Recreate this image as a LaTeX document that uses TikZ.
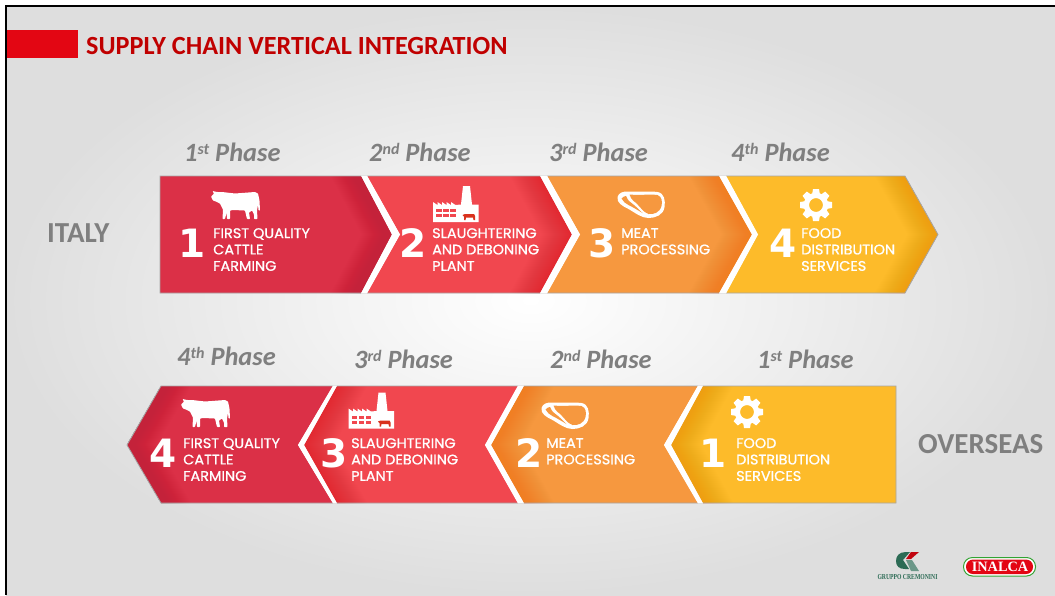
\documentclass[tikz,border=0pt]{standalone}
\usepackage{fontspec}
\setmainfont{Carlito}
\newfontfamily\gothfont[FakeBold=1,FakeStretch=1.04]{Poppins}
\newfontfamily\numfont{DejaVu Sans}
\newfontfamily\logofont{Liberation Serif}
\definecolor{segA}{HTML}{DB3047}
\definecolor{segAd}{HTML}{C4223A}
\definecolor{segB}{HTML}{F1474F}
\definecolor{segBd}{HTML}{E2282F}
\definecolor{segC}{HTML}{F6983F}
\definecolor{segCd}{HTML}{F07F12}
\definecolor{segD}{HTML}{FDBB2A}
\definecolor{segDd}{HTML}{EE9F12}
\definecolor{cowred}{HTML}{D9321E}
\definecolor{phasegray}{HTML}{7F7F7F}
\definecolor{titlered}{HTML}{C00000}
\definecolor{barred}{HTML}{E30613}
\definecolor{edgegray}{HTML}{A6A6A6}
\definecolor{logogreen}{HTML}{2C6B55}
\definecolor{bggray}{HTML}{DEDEDE}
\newcommand{\phsup}[1]{\raisebox{.26em}{\fontsize{16}{16}\selectfont #1}}
\tikzset{
  x=1pt,y=-1pt,
  phaselabel/.style={text=phasegray,font=\fontsize{26.4}{26}\selectfont\bfseries\itshape,inner sep=0pt,anchor=base west},
  regionlabel/.style={text=phasegray,font=\fontsize{29}{29}\selectfont\bfseries,inner sep=0pt,anchor=base west},
  stepnum/.style={text=white,font=\numfont\fontsize{39}{39}\selectfont\bfseries,inner sep=0pt,anchor=base},
  steptext/.style={text=white,font=\gothfont\fontsize{13.9}{16.4}\selectfont,inner sep=0pt,anchor=north west,align=left},
  cowicon/.pic={
    \fill[white,rounded corners=0.6pt] (0,6)--(3,3)--(1.5,.5)--(6,1.5)--(11,1.5)--(24,3)--(44,1.5)--(47,3)--(48.5,10)--(49,20)--(47.5,20)--(47,14)--(46,20)--(46.5,28.5)--(43,28.5)--(43,24)--(41,20)--(38,22)--(39,28.5)--(36,28.5)--(34,20)--(22,19.5)--(19,20)--(19,28.5)--(16,28.5)--(15.5,22)--(14,28.5)--(11.5,28.5)--(12,19)--(9,13)--(5,11)--(2,10)--cycle;
  },
  gearicon/.pic={
    \draw[white,line width=5.2pt] (0,0) circle (9.6);
    \foreach \a in {0,45,...,315}{\fill[white,rotate=\a] (-3,-16)--(3,-16)--(4,-10)--(-4,-10)--cycle;}
  },
  factoryicon/.pic={
    \fill[white] (0,36)--(0,16)--(4.5,19)--(4.5,16)--(9,19)--(9,16)--(13.5,19)--(13.5,16)--(18,19)--(18,16)--(22.5,19)--(28,18.5)--(30,0)--(37,0)--(39,18.5)--(45.5,18.5)--(45.5,36)--cycle;
    \foreach \yy in {23,28}{\foreach \xx in {3,10,17}{\fill[#1] (\xx,\yy) rectangle +(5.5,3.2);}}
    \fill[cowred] (29.5,29)--(32,28)--(41,28)--(42,30)--(42,34)--(40.5,34)--(40,31.5)--(33,31.5)--(32.5,34)--(31,34)--(31,30.5)--cycle;
  },
  steakicon/.pic={
    \fill[white] (0,6)..controls(1,2)and(5,0)..(12,.5)..controls(22,1)and(32,0)..(40,1)..controls(47,2)and(48,10)..(47,16)..controls(46,24)and(38,27)..(31,27)..controls(24,27)and(18,22)..(11,18)..controls(5,15)and(-1,12)..(0,6)--cycle;
    \fill[#1] (12,3.5)..controls(22,4.5)and(32,3)..(40,4)..controls(44.5,5.5)and(45,11)..(44,15)..controls(42,22)and(36,23.5)..(31,23)..controls(26,22)and(21,13)..(16,10)..controls(14,8.5)and(13,6)..(12,3.5)--cycle;
    \fill[#1] (4,7.5)..controls(5.5,6)and(7,5)..(8.5,5)..controls(9,7)and(11,10)..(14,12)..controls(18,15)and(21,18)..(25,22)..controls(20,19)and(16,16.5)..(11,14)..controls(8,12.5)and(5.5,10.5)..(4,7.5)--cycle;
  }
}
\newcommand{\tipdark}[5]{%
  \foreach \dd in {1,...,30}{
    \fill[#5,fill opacity=.02] (#1-\dd,#3)--(#2-\dd,#3+#4/2)--(#1-\dd,#3+#4)--(#1,#3+#4)--(#2,#3+#4/2)--(#1,#3)--cycle;
  }
}
\newcommand{\tipdarkL}[5]{%
  \foreach \dd in {1,...,30}{
    \fill[#5,fill opacity=.02] (#1+\dd,#3)--(#2+\dd,#3+#4/2)--(#1+\dd,#3+#4)--(#1,#3+#4)--(#2,#3+#4/2)--(#1,#3)--cycle;
  }
}
\begin{document}
\begin{tikzpicture}
\useasboundingbox (0,0) rectangle (1055,595);
\fill[white] (0,0) rectangle (1055,595);
\shade[inner color=white,outer color=bggray] (6,6) rectangle (1055,595);
\fill[black] (5,5) rectangle (1055,7);
\fill[black] (5,5) rectangle (7,595);
% header
\fill[barred] (7,30) rectangle (77.5,58);
\node[text=titlered,font=\fontsize{26.2}{26.2}\selectfont\bfseries,inner sep=0pt,anchor=base west] (title) at (86,54) {SUPPLY CHAIN VERTICAL INTEGRATION};
% top row
\fill[segA] (160,176)--(361,176)--(392,234.5)--(361,293)--(160,293)--cycle;
\tipdark{361}{392}{176}{117}{segAd}
\fill[segB] (367,176)--(400,234.5)--(367,293)--(540,293)--(572,234.5)--(540,176)--cycle;
\tipdark{540}{572}{176}{117}{segBd}
\fill[segC] (547,176)--(580,234.5)--(547,293)--(719,293)--(752,234.5)--(719,176)--cycle;
\tipdark{719}{752}{176}{117}{segCd}
\fill[segD] (726,176)--(758,234.5)--(726,293)--(905,293)--(938,234.5)--(905,176)--cycle;
\tipdark{905}{938}{176}{117}{segDd}
\draw[edgegray,line width=.8pt] (160,293)--(160,176)--(905,176)--(938,234.5)--(905,293)--cycle;
\fill[white] (361,175.6)--(367,175.6)--(400,234.5)--(367,293.4)--(361,293.4)--(392,234.5)--cycle;
\fill[white] (540,175.6)--(547,175.6)--(580,234.5)--(547,293.4)--(540,293.4)--(572,234.5)--cycle;
\fill[white] (719,175.6)--(726,175.6)--(758,234.5)--(726,293.4)--(719,293.4)--(752,234.5)--cycle;
% bottom row
\fill[segA] (127,445)--(161,386)--(333,386)--(298,445)--(333,503)--(161,503)--cycle;
\tipdarkL{161}{127}{386}{117}{segAd}
\fill[segB] (337,386)--(304,445)--(337,503)--(518,503)--(485,445)--(518,386)--cycle;
\tipdarkL{337}{304}{386}{117}{segBd}
\fill[segC] (524,386)--(491,445)--(524,503)--(698,503)--(664,445)--(698,386)--cycle;
\tipdarkL{524}{491}{386}{117}{segCd}
\fill[segD] (703,386)--(671,445)--(703,503)--(896,503)--(896,386)--cycle;
\tipdarkL{703}{671}{386}{117}{segDd}
\draw[edgegray,line width=.8pt] (127,445)--(161,386)--(896,386)--(896,503)--(161,503)--cycle;
\fill[white] (333,385.6)--(337,385.6)--(304,445)--(337,503.4)--(333,503.4)--(298,445)--cycle;
\fill[white] (518,385.6)--(524,385.6)--(491,445)--(524,503.4)--(518,503.4)--(485,445)--cycle;
\fill[white] (698,385.6)--(703,385.6)--(671,445)--(703,503.4)--(698,503.4)--(664,445)--cycle;
% phase labels
\node[phaselabel] (p1) at (184,161) {1\phsup{st} Phase};
\node[phaselabel] (p2) at (369,161) {2\phsup{nd} Phase};
\node[phaselabel] (p3) at (549,161) {3\phsup{rd} Phase};
\node[phaselabel] (p4) at (731,161) {4\phsup{th} Phase};
\node[phaselabel] (q4) at (177,365) {4\phsup{th} Phase};
\node[phaselabel] (q3) at (354,368) {3\phsup{rd} Phase};
\node[phaselabel] (q2) at (550,368) {2\phsup{nd} Phase};
\node[phaselabel] (q1) at (757,368) {1\phsup{st} Phase};
\node[regionlabel] (italy) at (47,242) {ITALY};
\node[regionlabel] (overseas) at (918,453) {OVERSEAS};
% numbers
\node[stepnum] (n1) at (192,257) {1};
\node[stepnum] (n2) at (413.5,257) {2};
\node[stepnum] (n3) at (602.5,257) {3};
\node[stepnum] (n4) at (783.5,257) {4};
\node[stepnum] (m4) at (163.5,467) {4};
\node[stepnum] (m3) at (334,467) {3};
\node[stepnum] (m2) at (529,467) {2};
\node[stepnum] (m1) at (713,467) {1};
% step text
\node[steptext] (t1) at (213,228) {FIRST QUALITY\\CATTLE\\FARMING};
\node[steptext] (t2) at (432,228) {SLAUGHTERING\\AND DEBONING\\PLANT};
\node[steptext] (t3) at (621,228) {MEAT\\PROCESSING};
\node[steptext] (t4) at (801,228) {FOOD\\DISTRIBUTION\\SERVICES};
\node[steptext] (u4) at (183,438) {FIRST QUALITY\\CATTLE\\FARMING};
\node[steptext] (u3) at (351,438) {SLAUGHTERING\\AND DEBONING\\PLANT};
\node[steptext] (u2) at (546,438) {MEAT\\PROCESSING};
\node[steptext] (u1) at (736,438) {FOOD\\DISTRIBUTION\\SERVICES};
% icons
\pic at (211,190.5) {cowicon};
\pic at (181,398.5) {cowicon};
\pic at (433,186) {factoryicon=segB};
\pic at (348.5,392.5) {factoryicon=segB};
\pic at (617.5,191) {steakicon=segC};
\pic at (541.5,402) {steakicon=segC};
\pic at (816,205) {gearicon};
\pic at (747,412) {gearicon};
% logos
\fill[logogreen] (919,552)--(906,552)..controls(899,552)and(896,556)..(896,561)..controls(896,566)and(899,569)..(905,569)--(909,569)--(903,560)--(910,552)--cycle;
\fill[logogreen!70] (906,560)--(912,560)--(919,571)--(911,571)--cycle;
\fill[barred!85!black] (911,552)--(919,552)--(911,559)--(906,559)--cycle;
\node[text=logogreen,font=\logofont\bfseries\fontsize{7.6}{7.6}\selectfont,inner sep=0pt,xscale=.75] (gc) at (907.5,577) {GRUPPO CREMONINI};
\draw[green!55!black!80,line width=1pt,fill=white,rounded corners=9pt] (963.5,557.5) rectangle (1035.5,576);
\fill[barred,rounded corners=7pt] (966,559.5) rectangle (1033,574);
\node[text=white,font=\logofont\bfseries\fontsize{14.3}{14.3}\selectfont,inner sep=0pt] (inalca) at (1000,567) {INALCA};
\end{tikzpicture}
\end{document}
